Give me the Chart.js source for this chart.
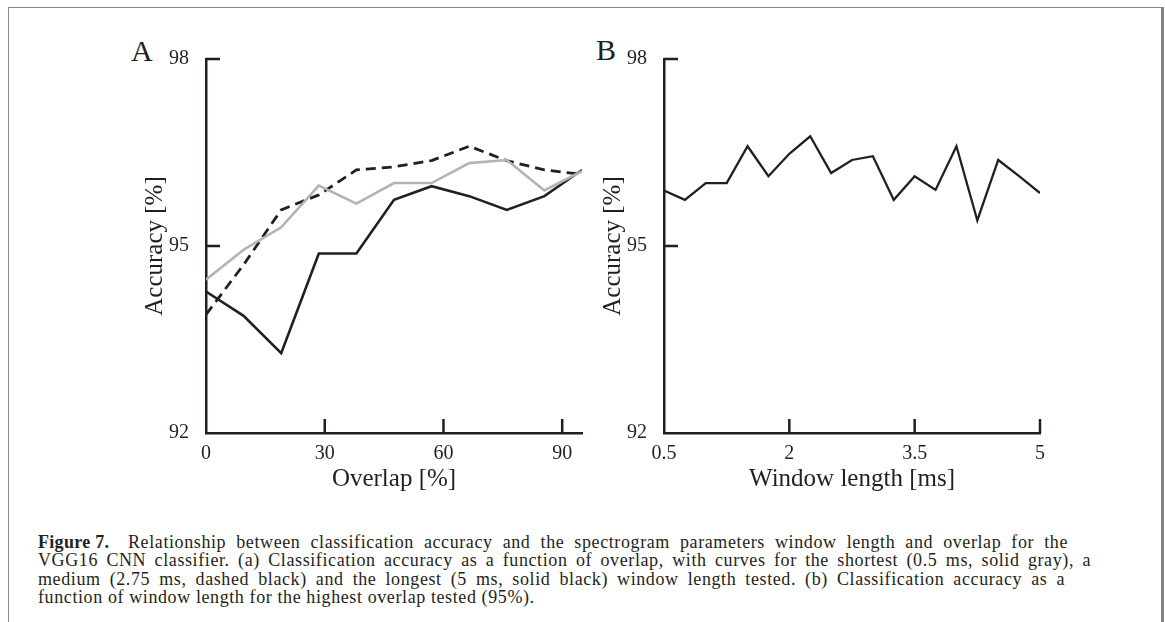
<!DOCTYPE html>
<html>
<head>
<meta charset="utf-8">
<script src="https://cdn.jsdelivr.net/npm/chart.js@4.4.1/dist/chart.umd.min.js"></script>
<style>
  html, body { margin:0; padding:0; background:#fff; }
  body { width:1165px; height:622px; position:relative; overflow:hidden; font-family:"Liberation Serif", serif; color:#231f20; }
  .frame-top { position:absolute; left:8px; top:7px; width:1155px; height:0; border-top:1.3px solid #8a8a8a; }
  .frame-left { position:absolute; left:8px; top:7px; width:0; height:620px; border-left:1.8px solid #8a8a8a; }
  .frame-right { position:absolute; left:1161px; top:7px; width:0; height:620px; border-left:3px solid #858585; }
  .wrap { position:absolute; }
  .panel { position:absolute; font-size:30px; line-height:30px; }
  .caption { position:absolute; left:38px; top:533px; font-size:18px; letter-spacing:0.6px; line-height:18.3px; white-space:nowrap; }
  .caption .j { text-align:justify; text-align-last:justify; }
  .caption .fig { display:inline-block; width:90px; font-weight:bold; letter-spacing:0.3px; text-align:left; text-align-last:left; }
</style>
</head>
<body>
<div class="frame-top"></div>
<div class="frame-left"></div>
<div class="frame-right"></div>
<div class="panel" style="left:131px; top:36px;">A</div>
<div class="panel" style="left:596px; top:35px;">B</div>
<div class="wrap" style="left:110px; top:30px; width:490px; height:480px;"><canvas id="chartA"></canvas></div>
<div class="wrap" style="left:568px; top:30px; width:490px; height:480px;"><canvas id="chartB"></canvas></div>
<div class="caption">
<div class="j" style="width:1030px;"><span class="fig">Figure 7.</span>Relationship between classification accuracy and the spectrogram parameters window length and overlap for the</div>
<div class="j" style="width:1053px;">VGG16 CNN classifier. (a) Classification accuracy as a function of overlap, with curves for the shortest (0.5 ms, solid gray), a</div>
<div class="j" style="width:1027px;">medium (2.75 ms, dashed black) and the longest (5 ms, solid black) window length tested. (b) Classification accuracy as a</div>
<div>function of window length for the highest overlap tested (95%).</div>
</div>
<script>
// ---- data ----
const overlapPct = [0, 9.5, 19, 28.5, 38, 47.5, 57, 66.5, 76, 85.5, 95];
const accShortest05ms = [94.46, 94.94, 95.30, 95.97, 95.68, 96.01, 96.01, 96.33, 96.38, 95.89, 96.20];
const accMedium275ms = [93.90, 94.70, 95.58, 95.82, 96.22, 96.27, 96.37, 96.60, 96.37, 96.22, 96.15];
const accLongest5ms = [94.27, 93.88, 93.28, 94.88, 94.88, 95.74, 95.96, 95.80, 95.58, 95.80, 96.22];

const windowLengthMs = [0.5, 0.75, 1, 1.25, 1.5, 1.75, 2, 2.25, 2.5, 2.75, 3, 3.25, 3.5, 3.75, 4, 4.25, 4.5, 4.75, 5];
const accAtOverlap95 = [95.89, 95.74, 96.01, 96.01, 96.60, 96.12, 96.48, 96.76, 96.17, 96.38, 96.44, 95.74, 96.12, 95.90, 96.60, 95.41, 96.38, 96.12, 95.85];

const yTicks = [92, 95, 98];
const xTicksA = [0, 30, 60, 90];
const xTicksB = [0.5, 2, 3.5, 5];

// ---- styling ----
const INK = '#231f20';
const GRAY = '#b3b3b3';
const FONT = 'Liberation Serif';

const inwardTicks = {
  id: 'inwardTicks',
  afterDraw(chart) {
    const ctx = chart.ctx;
    const xs = chart.scales.x, ys = chart.scales.y;
    const len = 14;
    ctx.save();
    ctx.strokeStyle = INK;
    ctx.lineWidth = 2.5;
    ctx.beginPath();
    xs.ticks.forEach(t => {
      if (t.value === xs.min) return;
      const px = xs.getPixelForValue(t.value);
      ctx.moveTo(px, ys.bottom);
      ctx.lineTo(px, ys.bottom - len);
    });
    ys.ticks.forEach(t => {
      if (t.value === ys.min) return;
      const py = ys.getPixelForValue(t.value);
      ctx.moveTo(xs.left, py);
      ctx.lineTo(xs.left + len, py);
    });
    ctx.stroke();
    ctx.restore();
  }
};

function pairs(xs, ys) { return xs.map((x, i) => ({x: x, y: ys[i]})); }

function makeOptions(xMin, xMax, xTicks, xTitle) {
  return {
    responsive: true,
    maintainAspectRatio: false,
    animation: false,
    layout: { padding: { left: 0, right: 18, top: 29, bottom: 0 } },
    plugins: { legend: { display: false }, tooltip: { enabled: false } },
    elements: { point: { radius: 0 }, line: { tension: 0, borderJoinStyle: 'miter', borderCapStyle: 'butt' } },
    scales: {
      x: {
        type: 'linear', min: xMin, max: xMax,
        afterBuildTicks: s => { s.ticks = xTicks.map(v => ({value: v})); },
        afterFit: s => { s.height = 77; },
        grid: { display: false, drawTicks: false, tickLength: 0 },
        border: { display: true, color: INK, width: 2.5 },
        ticks: { color: INK, font: { family: FONT, size: 20 }, padding: 9, maxRotation: 0, autoSkip: false,
                 callback: v => String(v) },
        title: { display: true, text: xTitle, color: INK, font: { family: FONT, size: 25 }, padding: { top: 0, bottom: 16 } }
      },
      y: {
        type: 'linear', min: 92, max: 98,
        afterBuildTicks: s => { s.ticks = yTicks.map(v => ({value: v})); },
        afterFit: s => { s.width = 96; },
        grid: { display: false, drawTicks: false, tickLength: 0 },
        border: { display: true, color: INK, width: 2.5 },
        ticks: { color: INK, font: { family: FONT, size: 20 }, padding: 17, callback: v => String(v) },
        title: { display: true, text: 'Accuracy [%]', color: INK, font: { family: FONT, size: 25 }, padding: { top: 30, bottom: 0 } }
      }
    }
  };
}

new Chart(document.getElementById('chartA'), {
  type: 'line',
  data: {
    datasets: [
      { label: '0.5 ms', data: pairs(overlapPct, accShortest05ms), borderColor: GRAY, borderWidth: 2.6, fill: false },
      { label: '2.75 ms', data: pairs(overlapPct, accMedium275ms), borderColor: INK, borderWidth: 2.8, borderDash: [10, 6], fill: false },
      { label: '5 ms', data: pairs(overlapPct, accLongest5ms), borderColor: INK, borderWidth: 2.6, fill: false }
    ]
  },
  options: makeOptions(0, 95, xTicksA, 'Overlap [%]'),
  plugins: [inwardTicks]
});

new Chart(document.getElementById('chartB'), {
  type: 'line',
  data: {
    datasets: [
      { label: '95% overlap', data: pairs(windowLengthMs, accAtOverlap95), borderColor: INK, borderWidth: 2.3, fill: false }
    ]
  },
  options: makeOptions(0.5, 5, xTicksB, 'Window length [ms]'),
  plugins: [inwardTicks]
});
</script>
</body>
</html>
